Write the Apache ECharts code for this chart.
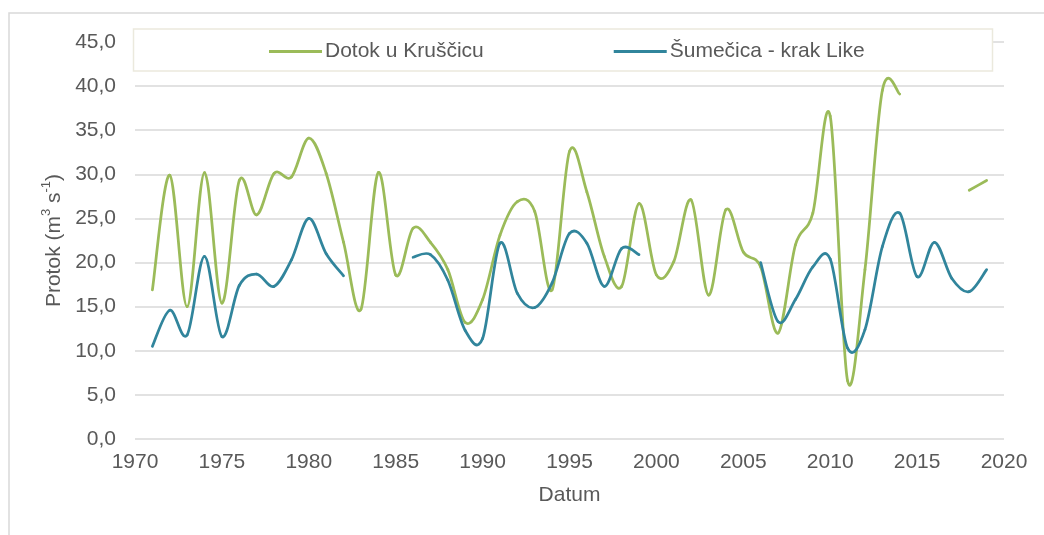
<!DOCTYPE html>
<html>
<head>
<meta charset="utf-8">
<title>Protok</title>
<script src="https://cdn.jsdelivr.net/npm/echarts@6.0.0/dist/echarts.min.js"></script>
<style>
  html, body { margin: 0; padding: 0; background: #ffffff; }
  #chart { width: 1044px; height: 535px; }
</style>
</head>
<body>
<div id="chart"></div>
<script>
// Annual discharge, m3/s (null = no measurement that year)
const years = [
  1971, 1972, 1973, 1974, 1975, 1976, 1977, 1978, 1979, 1980,
  1981, 1982, 1983, 1984, 1985, 1986, 1987, 1988, 1989, 1990,
  1991, 1992, 1993, 1994, 1995, 1996, 1997, 1998, 1999, 2000,
  2001, 2002, 2003, 2004, 2005, 2006, 2007, 2008, 2009, 2010,
  2011, 2012, 2013, 2014, 2015, 2016, 2017, 2018, 2019
];

const dotokKruscica = [
  16.9, 29.9, 15.0, 30.2, 15.4, 29.3, 25.4, 30.1, 29.7, 34.1,
  30.1, 22.3, 14.7, 30.2, 18.6, 23.9, 22.3, 19.2, 13.2, 15.8,
  23.1, 26.9, 25.8, 16.9, 32.6, 28.0, 20.7, 17.3, 26.7, 18.6,
  20.1, 27.1, 16.3, 26.0, 21.2, 19.5, 12.0, 22.0, 25.6, 36.6,
  6.6, 19.2, 39.5, 39.1, null, null, null, 28.2, 29.3
];

const sumecicaLika = [
  10.5, 14.6, 11.8, 20.7, 11.6, 17.4, 18.7, 17.3, 20.3, 25.0,
  21.0, 18.5, null, null, null, 20.6, 20.9, 18.0, 12.3, 11.4,
  22.2, 16.5, 14.9, 17.7, 23.3, 22.2, 17.3, 21.6, 20.9, null,
  null, null, null, null, null, 20.0, 13.3, 15.8, 19.5, 20.4,
  10.3, 12.4, 21.8, 25.6, 18.4, 22.3, 18.2, 16.7, 19.2
];

const seriesNames = ['Dotok u Kruščicu', 'Šumečica - krak Like'];
const seriesColors = ['#9bbb59', '#31859c'];

const FONT = '"Liberation Sans", Arial, sans-serif';
const TEXT = '#595959';

const pairs = vals => years.map((y, i) => [y, vals[i]]);

// Smoothed line: each year-to-year piece is a cubic Bezier whose control
// points follow the Catmull-Rom rule; gaps (null) break the line.
function smoothSegment(vals, color) {
  return function (params, api) {
    const i = params.dataIndex;
    const has = j => j >= 0 && j < vals.length && vals[j] !== null;
    if (!has(i) || !has(i + 1)) return null;
    const pt = j => api.coord([years[j], vals[j]]);
    const p1 = pt(i);
    const p2 = pt(i + 1);
    const p0 = has(i - 1) ? pt(i - 1) : p1;
    const p3 = has(i + 2) ? pt(i + 2) : p2;
    const k = 1 / 6;
    return {
      type: 'bezierCurve',
      shape: {
        x1: p1[0], y1: p1[1],
        x2: p2[0], y2: p2[1],
        cpx1: p1[0] + (p2[0] - p0[0]) * k,
        cpy1: p1[1] + (p2[1] - p0[1]) * k,
        cpx2: p2[0] - (p3[0] - p1[0]) * k,
        cpy2: p2[1] - (p3[1] - p1[1]) * k
      },
      style: { fill: null, stroke: color, lineWidth: 2.75, lineCap: 'round' }
    };
  };
}

const chart = echarts.init(document.getElementById('chart'), null, { renderer: 'canvas' });

chart.setOption({
  animation: false,
  backgroundColor: '#ffffff',
  textStyle: { fontFamily: FONT, color: TEXT },
  graphic: [
    {
      type: 'rect',
      z: 0,
      silent: true,
      shape: { x: 9, y: 13, width: 1200, height: 700 },
      style: { fill: 'none', stroke: '#d9d9d9', lineWidth: 1.5 }
    },
    {
      type: 'rect',
      z: 10,
      silent: true,
      shape: { x: 133.5, y: 29, width: 859, height: 42 },
      style: { fill: '#ffffff', stroke: '#ebe9dd', lineWidth: 1.5 }
    }
  ],
  legend: {
    z: 20,
    left: 264,
    top: 36,
    itemGap: 130,
    itemWidth: 53,
    itemHeight: 3,
    icon: 'rect',
    textStyle: { fontFamily: FONT, fontSize: 21, color: TEXT, padding: [0, 0, 0, -2] },
    data: seriesNames
  },
  grid: { left: 135, right: 40, top: 42, bottom: 96, containLabel: false },
  xAxis: {
    type: 'value',
    min: 1970,
    max: 2020,
    interval: 5,
    name: 'Datum',
    nameLocation: 'middle',
    nameGap: 46,
    nameTextStyle: { fontFamily: FONT, fontSize: 21, color: TEXT },
    axisLine: { show: false },
    axisTick: { show: false },
    splitLine: { show: false },
    axisLabel: {
      fontFamily: FONT,
      fontSize: 21,
      color: TEXT,
      margin: 13,
      formatter: v => String(v)
    }
  },
  yAxis: {
    type: 'value',
    min: 0,
    max: 45,
    interval: 5,
    name: '{n|Protok (m}{s|3}{n| s}{s|-1}{n|)}',
    nameLocation: 'middle',
    nameRotate: 90,
    nameGap: 68,
    nameTextStyle: {
      fontFamily: FONT,
      fontSize: 21,
      color: TEXT,
      rich: {
        n: { fontFamily: FONT, fontSize: 21, color: TEXT, lineHeight: 24, verticalAlign: 'bottom' },
        s: { fontFamily: FONT, fontSize: 13, color: TEXT, lineHeight: 24, verticalAlign: 'top' }
      }
    },
    axisLine: { show: false },
    axisTick: { show: false },
    splitLine: { lineStyle: { color: '#d9d9d9', width: 1.5 } },
    axisLabel: {
      fontFamily: FONT,
      fontSize: 21,
      color: TEXT,
      margin: 19,
      formatter: v => v.toFixed(1).replace('.', ',')
    }
  },
  series: [
    {
      name: seriesNames[0],
      type: 'custom',
      data: pairs(dotokKruscica),
      encode: { x: 0, y: 1 },
      renderItem: smoothSegment(dotokKruscica, seriesColors[0]),
      itemStyle: { color: seriesColors[0] },
      silent: true,
      z: 3
    },
    {
      name: seriesNames[1],
      type: 'custom',
      data: pairs(sumecicaLika),
      encode: { x: 0, y: 1 },
      renderItem: smoothSegment(sumecicaLika, seriesColors[1]),
      itemStyle: { color: seriesColors[1] },
      silent: true,
      z: 4
    }
  ]
});
</script>
</body>
</html>
